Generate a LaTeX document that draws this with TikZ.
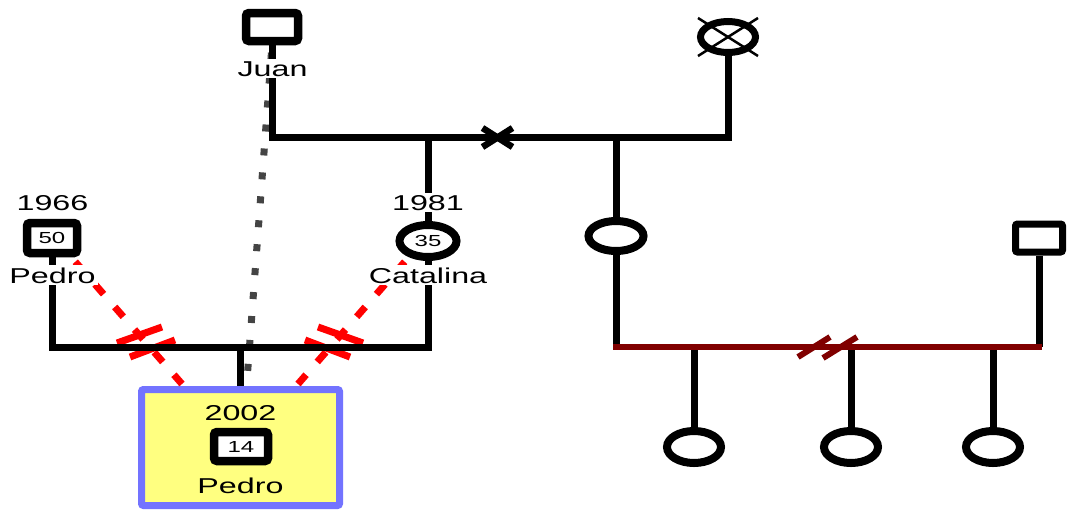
\documentclass[tikz,border=0pt]{standalone}
\usepackage{fontspec}
\setmainfont[FakeStretch=1.5]{Liberation Sans}
\usetikzlibrary{shapes.geometric,calc}
\definecolor{boxyellow}{RGB}{255,255,128}
\definecolor{boxblue}{RGB}{115,115,255}
\definecolor{darkred}{RGB}{128,0,0}
\definecolor{dotgray}{RGB}{68,68,68}
\newcommand{\lblfont}{\fontsize{21.5}{25}\selectfont}
\newcommand{\numfont}{\fontsize{16}{19}\selectfont}
\begin{document}
\begin{tikzpicture}[x=1pt,y=-1pt,
  conn/.style={line width=7pt},
  male/.style={rectangle,draw,line width=8.5pt,rounded corners=3pt,fill=white,inner sep=0pt,font=\numfont},
  female/.style={ellipse,draw,line width=8pt,fill=white,inner sep=0pt,font=\numfont},
  lbl/.style={anchor=base,fill=white,inner sep=2pt,font=\lblfont},
  kidlbl/.style={anchor=base,inner sep=0pt,font=\lblfont},
  reddash/.style={red,line width=7pt,dash pattern=on 13pt off 17pt,dash phase=25pt},
  redbar/.style={red,line width=7pt},
  slashbar/.style={darkred,line width=6pt},
  dotline/.style={dotgray,line width=7pt,dash pattern=on 7pt off 17pt,dash phase=16.5pt},
]
\useasboundingbox (0,0) rectangle (1068,512);
\fill[white] (0,0) rectangle (1068,512);

% people
\node[male,minimum width=52pt,minimum height=28pt] (juan) at (272,27) {};
\node[female,line width=7pt,minimum width=55pt,minimum height=31pt] (dead) at (728,37) {};
\node[male,minimum width=50pt,minimum height=30pt] (ped) at (52,238) {50};
\node[female,minimum width=57pt,minimum height=32pt] (cat) at (428,241) {35};
\node[female,minimum width=55pt,minimum height=30pt] (sis) at (616,236) {};
\node[male,line width=7pt,rounded corners=2pt,minimum width=47pt,minimum height=28pt] (husb) at (1039,238) {};
\node[female,minimum width=54pt,minimum height=32pt] (c1) at (694,447) {};
\node[female,minimum width=54pt,minimum height=32pt] (c2) at (851,447) {};
\node[female,minimum width=54pt,minimum height=32pt] (c3) at (993,447) {};
\node[rectangle,draw=boxblue,fill=boxyellow,line width=7pt,rounded corners=2pt,
      minimum width=198pt,minimum height=116pt] (kid) at (240.5,447.5) {};
\node[male,minimum width=54pt,minimum height=29pt] (kidsq) at (241,446.5) {14};

% helper coordinates
\coordinate (mt) at (0,137);
\coordinate (mb) at (0,347);
\coordinate (rs1) at (72,258);
\coordinate (re1) at (182,384);
\coordinate (rs2) at (408,258);
\coordinate (re2) at (298,384);
\coordinate (dotend) at (247,380);

% dotted line Juan -> child
\draw[dotline] (juan.south) -- (dotend);

% red dashed lines
\draw[reddash] (rs1) -- (re1);
\draw[reddash] (rs2) -- (re2);
\draw[redbar] (117,343) -- (162,327);
\draw[redbar] (130,357) -- (175,340);
\draw[redbar] (363,343) -- (318,327);
\draw[redbar] (350,357) -- (305,340);

% black connectors
\draw[conn] (juan.south) -- (juan.south |- mt) -- (dead.south |- mt) -- (dead.south);
\draw[conn] (cat.north) -- (cat.north |- mt);
\draw[conn] (sis.north) -- (sis.north |- mt);
\draw[conn] (ped.south) -- (ped.south |- mb) -- (cat.south |- mb) -- (cat.south);
\draw[conn] (kid.north |- mb) -- (kid.north);
\draw[conn] (sis.south) -- (sis.south |- mb);
\draw[conn] (husb.south) -- (husb.south |- mb);
\draw[conn] (c1.north) -- (c1.north |- mb);
\draw[conn] (c2.north) -- (c2.north |- mb);
\draw[conn] (c3.north) -- (c3.north |- mb);
\draw[conn,darkred,line width=6pt,line cap=rect] (sis.south |- mb) -- (husb.south |- mb);

% divorce / separation marks
\coordinate (xm) at (497.5,137.5);
\draw[line width=6.5pt] ($(xm)+(-15,-9.5)$) -- ($(xm)+(15,9.5)$);
\draw[line width=6.5pt] ($(xm)+(-15,9.5)$) -- ($(xm)+(15,-9.5)$);
\draw[slashbar] (798,357) -- (830,337);
\draw[slashbar] (823,358) -- (857,337);

% deceased cross
\draw[line width=2.5pt] ($(dead.center)+(-30,-19)$) -- ($(dead.center)+(30,19)$);
\draw[line width=2.5pt] ($(dead.center)+(30,-19)$) -- ($(dead.center)+(-30,19)$);

% labels
\node[lbl] (ljuan) at (272.5,76) {Juan};
\node[lbl] (l1966) at (52.5,210) {1966};
\node[lbl] (lped) at (52.5,283) {Pedro};
\node[lbl] (l1981) at (428,210) {1981};
\node[lbl] (lcat) at (428,283) {Catalina};
\node[kidlbl] (l2002) at (240.5,420) {2002};
\node[kidlbl] (lkid) at (240.5,493) {Pedro};
\end{tikzpicture}
\end{document}
